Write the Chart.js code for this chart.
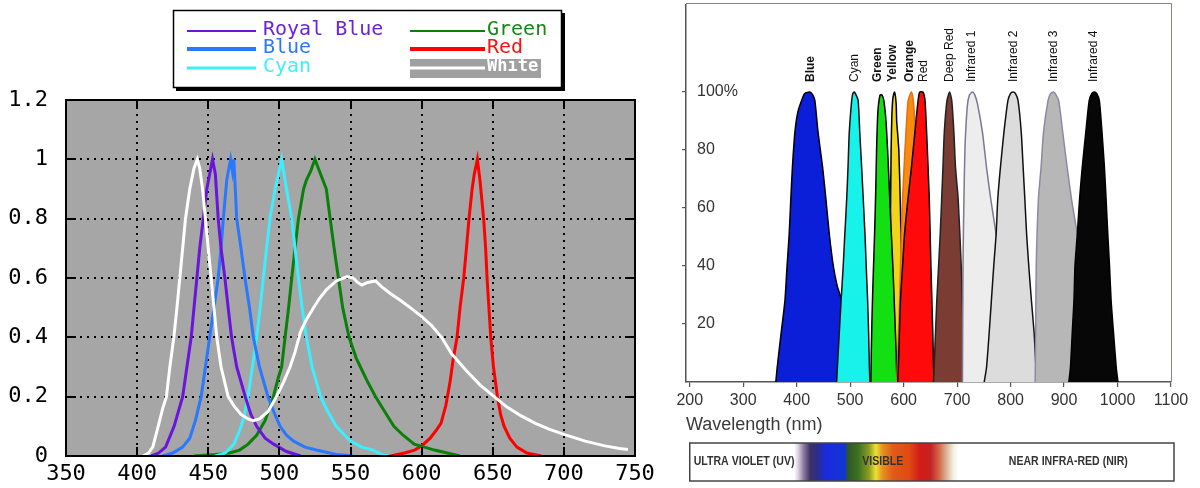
<!DOCTYPE html>
<html><head><meta charset="utf-8">
<script src="https://cdn.jsdelivr.net/npm/chart.js@4.4.1/dist/chart.umd.min.js"></script>
<style>
html,body{margin:0;padding:0;background:#fff;}
#wrap{position:relative;width:1200px;height:488px;overflow:hidden;background:#fff;}
#c1{position:absolute;left:0;top:0;}
#c2{position:absolute;left:670px;top:0;}
</style></head><body>
<div id="wrap">
<canvas id="c1" width="660" height="488"></canvas>
<canvas id="c2" width="530" height="488"></canvas>
</div>
<script>
// ---------------- LEFT CHART DATA ----------------
const xTicksL = [350,400,450,500,550,600,650,700,750];
const yTicksL = [0,0.2,0.4,0.6,0.8,1,1.2];
const ledNames = ['Royal Blue','Blue','Cyan','Green','Red','White'];
const royalBlue = [[410,0],[415,0.01],[420,0.03],[426,0.1],[432,0.2],[435,0.3],[438,0.4],[440,0.5],[442,0.6],[444,0.7],[446.5,0.8],[449,0.9],[453,1.0],[455,0.95],[457,0.8],[459,0.7],[461.7,0.6],[464,0.5],[466.4,0.4],[470,0.3],[476,0.2],[480,0.14],[484,0.1],[490,0.06],[496,0.04],[505,0.015],[515,0]];
const blue = [[418,0],[425,0.01],[432,0.03],[437,0.06],[441,0.12],[445,0.2],[448,0.3],[451,0.4],[454,0.5],[457,0.6],[459,0.7],[460.6,0.8],[463,0.93],[465.7,1.0],[467,0.96],[468,1.0],[470,0.8],[473,0.7],[475.8,0.6],[479,0.5],[481.7,0.4],[486,0.3],[492,0.2],[496,0.15],[500.5,0.1],[505,0.07],[510,0.05],[518,0.03],[526,0.02],[540,0.005],[552,0]];
const cyan = [[455,0],[462,0.01],[468,0.04],[472,0.085],[475,0.13],[478,0.2],[481,0.3],[484,0.4],[486.5,0.5],[488.7,0.6],[491,0.7],[493.4,0.8],[497,0.9],[501.6,1.0],[505,0.9],[508.7,0.8],[511,0.7],[513.4,0.6],[516,0.5],[519,0.4],[523,0.3],[529,0.2],[534,0.15],[540,0.1],[546,0.07],[550,0.05],[558,0.03],[566,0.02],[572,0.005],[577,0]];
const green = [[440,0],[455,0.005],[465,0.01],[472,0.02],[478,0.04],[484,0.07],[490,0.12],[495.8,0.2],[499,0.26],[501.6,0.3],[504,0.4],[506.5,0.5],[508.7,0.6],[511,0.7],[513.4,0.8],[517,0.9],[519,0.93],[522,0.96],[525,1.0],[529,0.95],[533,0.9],[535.7,0.8],[538.5,0.7],[541.5,0.6],[544.5,0.5],[549,0.4],[554,0.33],[557,0.3],[562,0.25],[567.6,0.2],[574,0.15],[580.5,0.1],[587,0.07],[594.8,0.04],[602,0.03],[609,0.02],[618,0.01],[627,0]];
const red = [[578,0],[588,0.01],[595,0.02],[600,0.034],[606,0.06],[610,0.085],[613.6,0.11],[617,0.17],[620,0.25],[622,0.32],[624.9,0.4],[627,0.5],[629.6,0.6],[631.5,0.7],[633.3,0.8],[635.5,0.9],[637,0.95],[639.2,1.0],[641,0.93],[643.6,0.8],[645,0.7],[646,0.6],[647.3,0.5],[648.6,0.4],[650.5,0.3],[653.3,0.2],[655.5,0.14],[658,0.1],[662,0.06],[667,0.03],[674,0.01],[684,0]];
const white = [[404,0],[408,0.01],[411,0.03],[414.8,0.1],[418,0.16],[420.6,0.2],[423,0.3],[425.8,0.4],[428,0.5],[430,0.6],[432,0.7],[434,0.8],[437,0.9],[440,0.97],[442.3,1.0],[444,0.97],[446,0.9],[448,0.8],[450,0.7],[452,0.6],[454,0.5],[456,0.4],[459,0.3],[464,0.2],[468,0.17],[473,0.14],[478,0.125],[481.7,0.119],[486,0.125],[492,0.15],[498,0.2],[503,0.25],[507.5,0.3],[511,0.35],[514.8,0.418],[519,0.46],[524,0.5],[528,0.53],[533,0.56],[540,0.59],[547.7,0.605],[552,0.6],[555,0.585],[558,0.576],[562,0.585],[567.6,0.59],[572,0.57],[578,0.548],[585,0.525],[592,0.5],[600,0.47],[607,0.44],[614,0.4],[621,0.345],[631,0.29],[641,0.24],[651,0.2],[660,0.165],[670,0.135],[680,0.11],[690,0.09],[700,0.073],[715,0.05],[728,0.035],[739,0.025],[745,0.022]];
const ledSeries = [royalBlue, blue, cyan, green, red, white];

// ---------------- RIGHT CHART DATA ----------------
const xTicksR = [200,300,400,500,600,700,800,900,1000,1100];
const yTicksR = [20,40,60,80,100];
const xTitleR = 'Wavelength (nm)';
const bandNames = ['Blue','Cyan','Green','Yellow','Orange','Red','Deep Red','Infrared 1','Infrared 2','Infrared 3','Infrared 4'];
const bandLabelNm = [426,509,552,580,612,638,687,728,805,880,955];
const bBlue = [[361,0],[363.5,5],[371,17],[378,28],[382,40],[386,51],[389,63],[392,74],[396.6,86],[402,93],[409,97],[415,99.5],[424.7,100],[430,99],[434,97],[440,86],[448.5,74],[454.7,63],[461,51],[468.5,40],[476,33],[484,28],[485.5,15],[486,0]];
const bCyan = [[474.7,0],[477,8],[479.7,17],[483,28],[487,40],[490,51],[493.5,63],[496,74],[498.3,86],[502.8,97],[505,99.5],[507.7,100],[511,99],[515,97],[518,86],[521.5,74],[524.5,63],[527.7,51],[530,40],[532.7,28],[534.5,17],[536,5],[537,0]];
const bGreen = [[538.7,0],[539.5,10],[540.6,20],[542,30],[543.7,40],[545.5,50],[547,60],[548.3,70],[549.4,80],[551,90],[552.6,95],[556,99],[559.5,99],[563,97],[567,90],[570,80],[572.5,70],[574.7,60],[577.3,50],[579.8,40],[582,30],[584,20],[586,10],[587.4,0]];
const bYellow = [[572,0],[574,20],[575,50],[576.6,80],[578,92],[580,98],[583,100],[586,96],[587,90],[591,80],[594,60],[596,40],[598,20],[600,0]];
const bOrange = [[587,0],[588,5],[592.5,28],[595.6,51],[598,63],[600.8,74],[604,85],[608.4,97],[614.6,100],[618,97],[621,90],[625,80],[630,60],[635,40],[640,20],[645,0]];
const bRed = [[589,0],[591,10],[594,28],[598,40],[601.7,51],[608,63],[614.6,74],[621,86],[627,97],[630,100],[636,100],[640,97],[643,86],[648,63],[651,40],[654.5,17],[656,5],[657,0]];
const bDeepRed = [[655.8,0],[657,5],[662,28],[668.4,51],[673.5,74],[676,86],[681,97],[686,100],[690,97],[694,86],[697,74],[702,63],[707.7,40],[711.5,17],[713,5],[714,0]];
const bIR1 = [[710,0],[711,40],[712.5,60],[714.6,80],[719,95],[723,99],[728.6,100],[733,99],[738,96],[747.5,86],[755,74],[763,63],[773,51],[785,38],[800,20],[815,5],[825,0]];
const bIR2 = [[750.7,0],[755,5],[760,17],[768.5,40],[773,51],[776,63],[781,74],[787.5,86],[795,97],[800,99.5],[804.5,100],[809,99.5],[814,97],[820,86],[823.5,74],[826.7,63],[830,51],[834,40],[839,28],[844,17],[847.6,5],[850.7,0]];
const bIR3 = [[846,0],[847,20],[848,40],[852,63],[857,74],[861.5,86],[870,97],[875,99.5],[880.5,100],[885,99],[890,97],[897.6,86],[905.8,74],[914,63],[924.8,51],[935,40],[950,20],[965,0]];
const bIR4 = [[909,0],[912,5],[915.3,17],[918.5,28],[920.4,40],[924.8,51],[929,63],[934,74],[940.6,86],[947,97],[952,99.5],[956.5,100],[961,99.5],[966,97],[971,86],[975.5,74],[978.6,63],[981.8,51],[985,40],[988,28],[992.5,17],[997.6,5],[1000.8,0]];
const bandSeries = [bBlue,bCyan,bGreen,bYellow,bOrange,bRed,bDeepRed,bIR1,bIR2,bIR3,bIR4];
const spectrumTexts = ['ULTRA VIOLET (UV)','VISIBLE','NEAR INFRA-RED (NIR)'];
const spectrumTextNm = [null,561,908];
const spectrumStops = [[395,'#ffffff'],[402,'#ddd6e6'],[412,'#9282aa'],[425,'#3c3366'],[440,'#2a2c90'],[455,'#1a2ae0'],[490,'#1236d0'],[496,'#2e5a22'],[515,'#3c7222'],[535,'#8c9a22'],[548,'#ece232'],[560,'#e49422'],[580,'#e25a1a'],[610,'#e04a12'],[630,'#d41c18'],[650,'#c42222'],[665,'#d06242'],[680,'#dab294'],[693,'#f2f0e2'],[703,'#ffffff']];

// ---------------- STYLES ----------------
const ledColors = ['#6a14dc','#2a78ff','#3ceeff','#0a800a','#ff0000','#ffffff'];
const ledTextColors = ['#6e22d8','#2a78ff','#40eeff','#138a13','#ff1010','#ffffff'];
const ledLegendWidths = [2,4,3,2,4,3];
const bandFill = ['#0b1ed8','#17f2ea','#12e012','#f2d41a','#fb8a10','#ff0a0a','#7b3c34','#ededed','#dcdcdc','#b7b7b7','#070707'];
const bandBorder = ['#000','#111','#000','#000','#e07010','#000','#222','#7d7890','#111','#8d8aa0','#000'];
const bandDrawRank = [0,1,3,2,4,5,6,7,8,9,10]; // bottom -> top
const bandBold = [true,false,true,true,true,false,false,false,false,false,false];

const toXY = arr => arr.map(p => ({x:p[0], y:p[1]}));
const MONO = "'DejaVu Sans Mono', 'Liberation Mono', monospace";
const SANS = "'Liberation Sans', Arial, sans-serif";

// ---------------- LEFT CHART ----------------
const leftDeco = {
  id:'leftDeco',
  beforeDraw(c){
    const a=c.chartArea, ctx=c.ctx;
    ctx.save(); ctx.fillStyle='#a6a6a6';
    ctx.fillRect(a.left,a.top,a.right-a.left,a.bottom-a.top); ctx.restore();
  },
  afterDraw(c){
    const a=c.chartArea, ctx=c.ctx, xs=c.scales.x, ys=c.scales.y;
    ctx.save();
    ctx.strokeStyle='#000'; ctx.lineWidth=2;
    ctx.strokeRect(a.left,a.top,a.right-a.left,a.bottom-a.top);
    ctx.beginPath();
    xTicksL.slice(1,-1).forEach(v=>{const x=Math.round(xs.getPixelForValue(v));
      ctx.moveTo(x,a.bottom); ctx.lineTo(x,a.bottom-9); ctx.moveTo(x,a.top); ctx.lineTo(x,a.top+9);});
    yTicksL.slice(1,-1).forEach(v=>{const y=Math.round(ys.getPixelForValue(v));
      ctx.moveTo(a.left,y); ctx.lineTo(a.left+10,y); ctx.moveTo(a.right,y); ctx.lineTo(a.right-10,y);});
    ctx.stroke();
    // legend box
    ctx.fillStyle='#000'; ctx.fillRect(176,13,389,78);
    ctx.fillStyle='#fff'; ctx.fillRect(173,10,389,78);
    ctx.lineWidth=1.5; ctx.strokeRect(173.5,10.5,388,77);
    const rows=[31,49,68];
    c.data.datasets.forEach((ds,i)=>{
      const col = i<3?0:1, row = i%3, y = rows[row];
      const x0 = col===0?187:410, x1 = col===0?256:485, tx = col===0?263:487;
      if(i===5){ ctx.fillStyle='#a0a0a0'; ctx.fillRect(410,59,131,19); }
      ctx.strokeStyle=ds.borderColor; ctx.lineWidth=ledLegendWidths[i];
      ctx.beginPath(); ctx.moveTo(x0,y); ctx.lineTo(x1,y); ctx.stroke();
      ctx.fillStyle=ledTextColors[i];
      ctx.font=(i===5?'bold 17px ':'20px ')+MONO;
      ctx.textBaseline='middle'; ctx.textAlign='left';
      ctx.fillText(ds.label,tx,y-1);
    });
    ctx.restore();
  }
};

new Chart(document.getElementById('c1'),{
  type:'line',
  data:{datasets: ledSeries.map((s,i)=>({
    label: ledNames[i], data: toXY(s), borderColor: ledColors[i], backgroundColor: ledColors[i],
    borderWidth:3, pointRadius:0, tension:0, fill:false, order: i===5?-1:0
  }))},
  options:{
    responsive:false, animation:false, events:[],
    layout:{padding:{left:0,top:100,right:25,bottom:0}},
    plugins:{legend:{display:false}, tooltip:{enabled:false}},
    scales:{
      x:{type:'linear', min:350, max:750,
        afterBuildTicks:s=>{s.ticks=xTicksL.map(v=>({value:v}));},
        afterFit:s=>{s.height=32; s.paddingLeft=0; s.paddingRight=0;},
        grid:{color:'#000', lineWidth:2, drawTicks:false},
        border:{display:false, dash:[2,5]},
        ticks:{font:{family:MONO,size:22}, color:'#000', padding:5, maxRotation:0, autoSkip:false, callback:v=>String(v)}},
      y:{type:'linear', min:0, max:1.2,
        afterBuildTicks:s=>{s.ticks=yTicksL.map(v=>({value:v}));},
        afterFit:s=>{s.width=66; s.paddingTop=0; s.paddingBottom=0;},
        grid:{color:'#000', lineWidth:2, drawTicks:false},
        border:{display:false, dash:[2,5]},
        ticks:{font:{family:MONO,size:22}, color:'#000', padding:18, callback:v=>String(v)}}
    }
  },
  plugins:[leftDeco]
});

// ---------------- RIGHT CHART ----------------
const rightDeco = {
  id:'rightDeco',
  afterDatasetsDraw(c){
    const ctx=c.ctx, xs=c.scales.x, ys=c.scales.y;
    ctx.save();
    ctx.fillStyle='#111'; ctx.textBaseline='middle'; ctx.textAlign='left';
    bandNames.forEach((n,i)=>{
      const x=xs.getPixelForValue(bandLabelNm[i]);
      const y=ys.getPixelForValue(100)-10;
      ctx.save(); ctx.translate(x,y); ctx.rotate(-Math.PI/2);
      ctx.font=(bandBold[i]?'bold ':'')+'12px '+SANS;
      ctx.fillText(n,0,0); ctx.restore();
    });
    ctx.restore();
  },
  afterDraw(c){
    const a=c.chartArea, ctx=c.ctx, xs=c.scales.x;
    ctx.save();
    // frame
    ctx.strokeStyle='#85857a'; ctx.lineWidth=1;
    ctx.beginPath(); ctx.moveTo(a.left,a.top-1.5); ctx.lineTo(a.right+0.5,a.top-1.5); ctx.lineTo(a.right+0.5,a.bottom); ctx.stroke();
    // spectrum bar
    const bx0=xs.getPixelForValue(200), bx1=a.right+3, by0=443, by1=481;
    const g=ctx.createLinearGradient(bx0,0,bx1,0);
    spectrumStops.forEach(([nm,col])=>{
      const t=(xs.getPixelForValue(nm)-bx0)/(bx1-bx0);
      g.addColorStop(Math.min(1,Math.max(0,t)),col);
    });
    ctx.fillStyle=g; ctx.fillRect(bx0,by0,bx1-bx0,by1-by0);
    ctx.strokeStyle='#444'; ctx.lineWidth=1.5; ctx.strokeRect(bx0,by0,bx1-bx0,by1-by0);
    ctx.fillStyle='#333'; ctx.textBaseline='middle';
    ctx.font="bold 12px 'Liberation Sans', Arial, sans-serif";
    const cy=(by0+by1)/2, sx=0.88;
    spectrumTexts.forEach((t,i)=>{
      ctx.save();
      if(spectrumTextNm[i]===null){ ctx.translate(bx0+4,cy); ctx.scale(sx,1); ctx.textAlign='left'; }
      else { ctx.translate(xs.getPixelForValue(spectrumTextNm[i]),cy); ctx.scale(sx,1); ctx.textAlign='center'; }
      ctx.fillText(t,0,0);
      ctx.restore();
    });
    ctx.restore();
  }
};

const rankToOrder = bandDrawRank.map(r => 100 - r);
new Chart(document.getElementById('c2'),{
  type:'line',
  data:{datasets: bandSeries.map((s,i)=>({
    label: bandNames[i], data: toXY(s), borderColor: bandBorder[i], backgroundColor: bandFill[i],
    borderWidth:1.5, pointRadius:0, tension:0.2, fill:'origin', order: rankToOrder[i]
  }))},
  options:{
    responsive:false, animation:false, events:[],
    layout:{padding:{left:0,top:5,right:29,bottom:0}},
    plugins:{legend:{display:false}, tooltip:{enabled:false}},
    scales:{
      x:{type:'linear', min:193, max:1100,
        afterBuildTicks:s=>{s.ticks=xTicksR.map(v=>({value:v}));},
        afterFit:s=>{s.height=106; s.paddingLeft=0; s.paddingRight=0;},
        grid:{drawOnChartArea:false, tickLength:5, color:'#555', lineWidth:1.2},
        border:{display:true, color:'#555', width:1.5},
        ticks:{font:{family:SANS,size:16}, color:'#333', padding:4, maxRotation:0, autoSkip:false, callback:v=>String(v)},
        title:{display:true, text:xTitleR, align:'start', color:'#3a3a3a', font:{family:SANS,size:18}, padding:{top:0,bottom:52}}},
      y:{type:'linear', min:0, max:130,
        afterBuildTicks:s=>{s.ticks=yTicksR.map(v=>({value:v}));},
        afterFit:s=>{s.width=16; s.paddingTop=0; s.paddingBottom=0;},
        grid:{drawOnChartArea:false, tickLength:4, color:'#555', lineWidth:1.2},
        border:{display:true, color:'#555', width:1.5},
        ticks:{mirror:true, padding:11, font:{family:SANS,size:16}, color:'#333',
          callback:v=> v===100 ? v+'%' : String(v)}}
    }
  },
  plugins:[rightDeco]
});
</script>
</body></html>
